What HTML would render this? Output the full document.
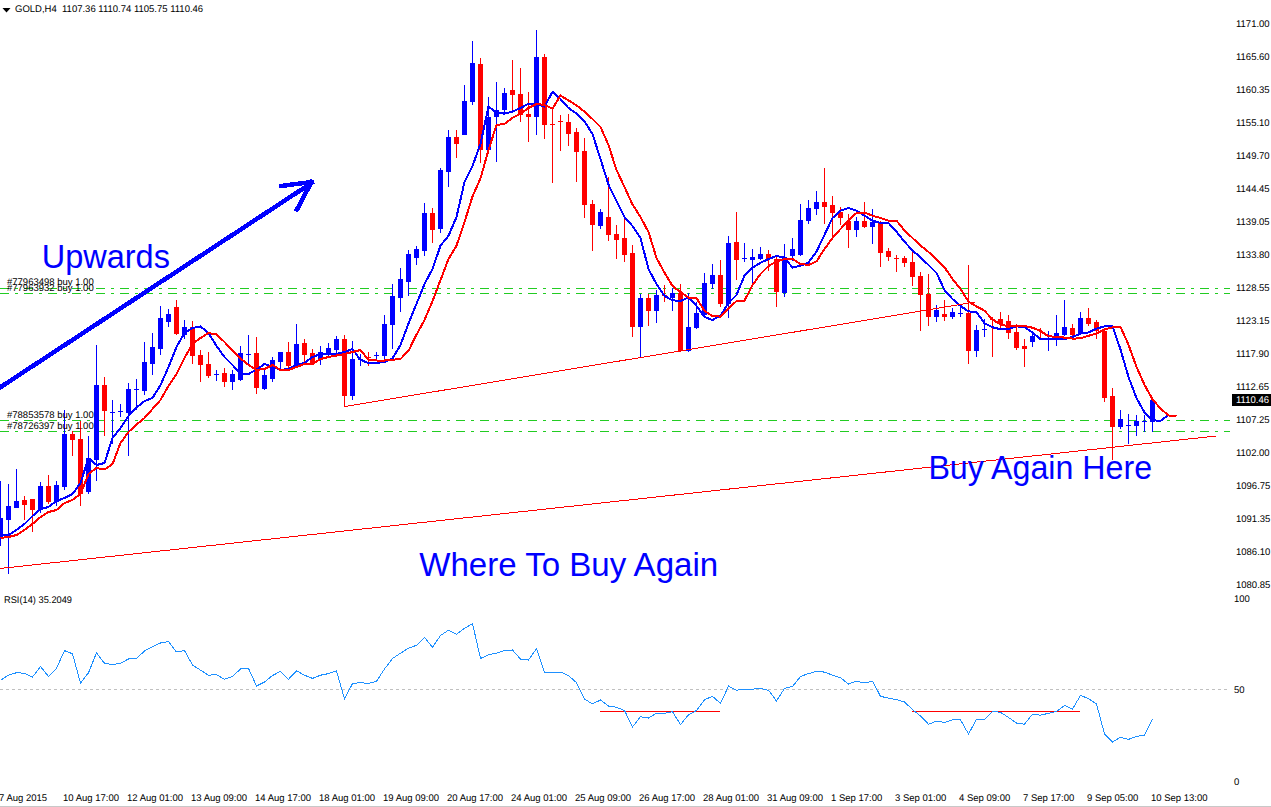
<!DOCTYPE html>
<html><head><meta charset="utf-8"><style>
html,body{margin:0;padding:0;background:#fff;width:1271px;height:807px;overflow:hidden}
svg{display:block}
text{font-family:"Liberation Sans",sans-serif}
</style></head><body>
<svg width="1271" height="807" viewBox="0 0 1271 807">
<line x1="0" y1="288.5" x2="1230" y2="288.5" stroke="#22CC22" stroke-width="1" stroke-dasharray="9 6 3 6" shape-rendering="crispEdges"/>
<line x1="0" y1="293.5" x2="1230" y2="293.5" stroke="#22CC22" stroke-width="1" stroke-dasharray="9 6 3 6" shape-rendering="crispEdges"/>
<line x1="0" y1="420.5" x2="1230" y2="420.5" stroke="#22CC22" stroke-width="1" stroke-dasharray="9 6 3 6" shape-rendering="crispEdges"/>
<line x1="0" y1="431.5" x2="1230" y2="431.5" stroke="#22CC22" stroke-width="1" stroke-dasharray="9 6 3 6" shape-rendering="crispEdges"/>
<g fill="#0000FF" shape-rendering="crispEdges"><rect x="0" y="481" width="1" height="65"/><rect x="-2" y="518" width="5" height="20"/><rect x="8" y="484" width="1" height="90"/><rect x="6" y="506" width="5" height="14"/><rect x="16" y="469" width="1" height="39"/><rect x="14" y="501" width="5" height="7"/><rect x="40" y="482" width="1" height="31"/><rect x="38" y="486" width="5" height="23"/><rect x="56" y="481" width="1" height="25"/><rect x="54" y="485" width="5" height="17"/><rect x="64" y="410" width="1" height="80"/><rect x="62" y="434" width="5" height="53"/><rect x="88" y="436" width="1" height="58"/><rect x="86" y="458" width="5" height="34"/><rect x="96" y="345" width="1" height="136"/><rect x="94" y="385" width="5" height="75"/><rect x="112" y="400" width="1" height="44"/><rect x="110" y="412" width="5" height="1"/><rect x="120" y="404" width="1" height="13"/><rect x="118" y="411" width="5" height="1"/><rect x="128" y="383" width="1" height="73"/><rect x="126" y="389" width="5" height="24"/><rect x="136" y="379" width="1" height="31"/><rect x="134" y="389" width="5" height="1"/><rect x="144" y="342" width="1" height="53"/><rect x="142" y="362" width="5" height="29"/><rect x="152" y="333" width="1" height="42"/><rect x="150" y="347" width="5" height="17"/><rect x="160" y="306" width="1" height="49"/><rect x="158" y="318" width="5" height="31"/><rect x="168" y="309" width="1" height="18"/><rect x="166" y="314" width="5" height="8"/><rect x="184" y="320" width="1" height="19"/><rect x="182" y="327" width="5" height="8"/><rect x="216" y="370" width="1" height="11"/><rect x="214" y="374" width="5" height="1"/><rect x="232" y="370" width="1" height="20"/><rect x="230" y="374" width="5" height="8"/><rect x="240" y="346" width="1" height="35"/><rect x="238" y="353" width="5" height="27"/><rect x="248" y="335" width="1" height="29"/><rect x="246" y="354" width="5" height="1"/><rect x="264" y="370" width="1" height="20"/><rect x="262" y="375" width="5" height="14"/><rect x="272" y="357" width="1" height="25"/><rect x="270" y="360" width="5" height="19"/><rect x="280" y="352" width="1" height="18"/><rect x="278" y="352" width="5" height="10"/><rect x="296" y="324" width="1" height="44"/><rect x="294" y="344" width="5" height="22"/><rect x="320" y="346" width="1" height="19"/><rect x="318" y="352" width="5" height="7"/><rect x="328" y="343" width="1" height="13"/><rect x="326" y="348" width="5" height="5"/><rect x="336" y="336" width="1" height="17"/><rect x="334" y="339" width="5" height="11"/><rect x="352" y="341" width="1" height="59"/><rect x="350" y="359" width="5" height="37"/><rect x="360" y="354" width="1" height="12"/><rect x="358" y="359" width="5" height="1"/><rect x="376" y="352" width="1" height="9"/><rect x="374" y="355" width="5" height="1"/><rect x="384" y="315" width="1" height="44"/><rect x="382" y="324" width="5" height="32"/><rect x="392" y="284" width="1" height="65"/><rect x="390" y="296" width="5" height="29"/><rect x="400" y="268" width="1" height="44"/><rect x="398" y="279" width="5" height="19"/><rect x="408" y="250" width="1" height="46"/><rect x="406" y="254" width="5" height="28"/><rect x="416" y="246" width="1" height="19"/><rect x="414" y="249" width="5" height="9"/><rect x="424" y="203" width="1" height="53"/><rect x="422" y="213" width="5" height="38"/><rect x="440" y="168" width="1" height="65"/><rect x="438" y="170" width="5" height="59"/><rect x="448" y="130" width="1" height="57"/><rect x="446" y="137" width="5" height="35"/><rect x="464" y="85" width="1" height="50"/><rect x="462" y="101" width="5" height="34"/><rect x="472" y="41" width="1" height="64"/><rect x="470" y="63" width="5" height="39"/><rect x="488" y="97" width="1" height="53"/><rect x="486" y="117" width="5" height="33"/><rect x="496" y="82" width="1" height="80"/><rect x="494" y="110" width="5" height="7"/><rect x="504" y="88" width="1" height="25"/><rect x="502" y="93" width="5" height="17"/><rect x="536" y="30" width="1" height="105"/><rect x="534" y="57" width="5" height="60"/><rect x="600" y="209" width="1" height="20"/><rect x="598" y="212" width="5" height="14"/><rect x="640" y="294" width="1" height="64"/><rect x="638" y="298" width="5" height="29"/><rect x="656" y="290" width="1" height="33"/><rect x="654" y="295" width="5" height="16"/><rect x="672" y="288" width="1" height="23"/><rect x="670" y="293" width="5" height="5"/><rect x="688" y="293" width="1" height="59"/><rect x="686" y="327" width="5" height="24"/><rect x="696" y="302" width="1" height="27"/><rect x="694" y="313" width="5" height="15"/><rect x="704" y="273" width="1" height="43"/><rect x="702" y="283" width="5" height="32"/><rect x="712" y="264" width="1" height="25"/><rect x="710" y="275" width="5" height="9"/><rect x="728" y="236" width="1" height="82"/><rect x="726" y="243" width="5" height="61"/><rect x="744" y="243" width="1" height="19"/><rect x="742" y="258" width="5" height="1"/><rect x="752" y="249" width="1" height="35"/><rect x="750" y="257" width="5" height="3"/><rect x="760" y="247" width="1" height="13"/><rect x="758" y="254" width="5" height="5"/><rect x="784" y="244" width="1" height="53"/><rect x="782" y="257" width="5" height="36"/><rect x="792" y="238" width="1" height="23"/><rect x="790" y="249" width="5" height="7"/><rect x="800" y="204" width="1" height="52"/><rect x="798" y="220" width="5" height="35"/><rect x="808" y="200" width="1" height="24"/><rect x="806" y="208" width="5" height="13"/><rect x="816" y="191" width="1" height="24"/><rect x="814" y="202" width="5" height="7"/><rect x="856" y="217" width="1" height="20"/><rect x="854" y="221" width="5" height="9"/><rect x="872" y="209" width="1" height="35"/><rect x="870" y="222" width="5" height="5"/><rect x="936" y="305" width="1" height="17"/><rect x="934" y="310" width="5" height="7"/><rect x="952" y="308" width="1" height="11"/><rect x="950" y="312" width="5" height="5"/><rect x="960" y="306" width="1" height="11"/><rect x="958" y="313" width="5" height="1"/><rect x="976" y="325" width="1" height="32"/><rect x="974" y="330" width="5" height="21"/><rect x="984" y="319" width="1" height="18"/><rect x="982" y="329" width="5" height="1"/><rect x="1032" y="333" width="1" height="14"/><rect x="1030" y="336" width="5" height="6"/><rect x="1048" y="331" width="1" height="20"/><rect x="1046" y="338" width="5" height="1"/><rect x="1056" y="315" width="1" height="31"/><rect x="1054" y="333" width="5" height="6"/><rect x="1064" y="300" width="1" height="36"/><rect x="1062" y="327" width="5" height="8"/><rect x="1080" y="312" width="1" height="21"/><rect x="1078" y="318" width="5" height="15"/><rect x="1120" y="410" width="1" height="19"/><rect x="1118" y="419" width="5" height="8"/><rect x="1128" y="414" width="1" height="30"/><rect x="1126" y="425" width="5" height="1"/><rect x="1136" y="415" width="1" height="21"/><rect x="1134" y="421" width="5" height="5"/><rect x="1144" y="415" width="1" height="17"/><rect x="1142" y="421" width="5" height="1"/><rect x="1152" y="400" width="1" height="32"/><rect x="1150" y="400" width="5" height="22"/></g>
<g fill="#FF0000" shape-rendering="crispEdges"><rect x="24" y="496" width="1" height="24"/><rect x="22" y="500" width="5" height="5"/><rect x="32" y="499" width="1" height="33"/><rect x="30" y="499" width="5" height="11"/><rect x="48" y="475" width="1" height="29"/><rect x="46" y="486" width="5" height="16"/><rect x="72" y="431" width="1" height="25"/><rect x="70" y="434" width="5" height="6"/><rect x="80" y="421" width="1" height="85"/><rect x="78" y="439" width="5" height="55"/><rect x="104" y="377" width="1" height="59"/><rect x="102" y="385" width="5" height="26"/><rect x="176" y="300" width="1" height="35"/><rect x="174" y="307" width="5" height="27"/><rect x="192" y="321" width="1" height="43"/><rect x="190" y="327" width="5" height="29"/><rect x="200" y="350" width="1" height="32"/><rect x="198" y="355" width="5" height="10"/><rect x="208" y="352" width="1" height="26"/><rect x="206" y="364" width="5" height="12"/><rect x="224" y="368" width="1" height="19"/><rect x="222" y="373" width="5" height="9"/><rect x="256" y="337" width="1" height="57"/><rect x="254" y="353" width="5" height="35"/><rect x="288" y="342" width="1" height="26"/><rect x="286" y="352" width="5" height="14"/><rect x="304" y="339" width="1" height="24"/><rect x="302" y="343" width="5" height="12"/><rect x="312" y="349" width="1" height="16"/><rect x="310" y="353" width="5" height="10"/><rect x="344" y="335" width="1" height="72"/><rect x="342" y="339" width="5" height="57"/><rect x="368" y="352" width="1" height="14"/><rect x="366" y="357" width="5" height="1"/><rect x="432" y="208" width="1" height="35"/><rect x="430" y="213" width="5" height="17"/><rect x="456" y="130" width="1" height="28"/><rect x="454" y="137" width="5" height="7"/><rect x="480" y="58" width="1" height="105"/><rect x="478" y="64" width="5" height="86"/><rect x="512" y="60" width="1" height="53"/><rect x="510" y="90" width="5" height="5"/><rect x="520" y="68" width="1" height="54"/><rect x="518" y="94" width="5" height="21"/><rect x="528" y="92" width="1" height="50"/><rect x="526" y="114" width="5" height="3"/><rect x="544" y="54" width="1" height="85"/><rect x="542" y="57" width="5" height="68"/><rect x="552" y="108" width="1" height="75"/><rect x="550" y="124" width="5" height="1"/><rect x="560" y="115" width="1" height="36"/><rect x="558" y="121" width="5" height="1"/><rect x="568" y="114" width="1" height="32"/><rect x="566" y="122" width="5" height="12"/><rect x="576" y="128" width="1" height="54"/><rect x="574" y="132" width="5" height="20"/><rect x="584" y="138" width="1" height="80"/><rect x="582" y="151" width="5" height="54"/><rect x="592" y="200" width="1" height="51"/><rect x="590" y="204" width="5" height="21"/><rect x="608" y="177" width="1" height="64"/><rect x="606" y="217" width="5" height="18"/><rect x="616" y="225" width="1" height="34"/><rect x="614" y="234" width="5" height="6"/><rect x="624" y="219" width="1" height="43"/><rect x="622" y="238" width="5" height="17"/><rect x="632" y="245" width="1" height="92"/><rect x="630" y="253" width="5" height="74"/><rect x="648" y="294" width="1" height="32"/><rect x="646" y="298" width="5" height="13"/><rect x="664" y="285" width="1" height="17"/><rect x="662" y="295" width="5" height="1"/><rect x="680" y="284" width="1" height="68"/><rect x="678" y="293" width="5" height="58"/><rect x="720" y="260" width="1" height="47"/><rect x="718" y="275" width="5" height="29"/><rect x="736" y="212" width="1" height="68"/><rect x="734" y="242" width="5" height="18"/><rect x="768" y="250" width="1" height="21"/><rect x="766" y="254" width="5" height="5"/><rect x="776" y="256" width="1" height="51"/><rect x="774" y="259" width="5" height="33"/><rect x="824" y="168" width="1" height="56"/><rect x="822" y="202" width="5" height="5"/><rect x="832" y="196" width="1" height="40"/><rect x="830" y="205" width="5" height="8"/><rect x="840" y="207" width="1" height="18"/><rect x="838" y="212" width="5" height="6"/><rect x="848" y="214" width="1" height="34"/><rect x="846" y="221" width="5" height="9"/><rect x="864" y="202" width="1" height="26"/><rect x="862" y="221" width="5" height="6"/><rect x="880" y="221" width="1" height="46"/><rect x="878" y="223" width="5" height="30"/><rect x="888" y="248" width="1" height="13"/><rect x="886" y="251" width="5" height="6"/><rect x="896" y="255" width="1" height="17"/><rect x="894" y="258" width="5" height="1"/><rect x="904" y="256" width="1" height="11"/><rect x="902" y="258" width="5" height="5"/><rect x="912" y="252" width="1" height="34"/><rect x="910" y="262" width="5" height="15"/><rect x="920" y="272" width="1" height="59"/><rect x="918" y="276" width="5" height="19"/><rect x="928" y="274" width="1" height="52"/><rect x="926" y="294" width="5" height="23"/><rect x="944" y="300" width="1" height="21"/><rect x="942" y="314" width="5" height="3"/><rect x="968" y="265" width="1" height="99"/><rect x="966" y="313" width="5" height="38"/><rect x="992" y="317" width="1" height="40"/><rect x="990" y="319" width="5" height="1"/><rect x="1000" y="312" width="1" height="18"/><rect x="998" y="319" width="5" height="5"/><rect x="1008" y="315" width="1" height="24"/><rect x="1006" y="321" width="5" height="12"/><rect x="1016" y="324" width="1" height="26"/><rect x="1014" y="332" width="5" height="16"/><rect x="1024" y="339" width="1" height="28"/><rect x="1022" y="346" width="5" height="3"/><rect x="1040" y="328" width="1" height="12"/><rect x="1038" y="338" width="5" height="1"/><rect x="1072" y="324" width="1" height="13"/><rect x="1070" y="328" width="5" height="7"/><rect x="1088" y="308" width="1" height="18"/><rect x="1086" y="318" width="5" height="6"/><rect x="1096" y="320" width="1" height="19"/><rect x="1094" y="322" width="5" height="9"/><rect x="1104" y="329" width="1" height="73"/><rect x="1102" y="331" width="5" height="67"/><rect x="1112" y="388" width="1" height="72"/><rect x="1110" y="396" width="5" height="31"/></g>
<polyline points="0.5,535.0 8.5,535.0 16.5,530.0 24.5,524.0 32.5,516.0 40.5,509.0 48.5,507.0 56.5,501.0 64.5,498.0 72.5,494.0 80.5,483.0 88.5,458.0 96.5,465.0 104.5,463.0 112.5,438.0 120.5,428.0 128.5,416.0 136.5,407.5 144.5,401.0 152.5,398.0 160.5,385.0 168.5,367.0 176.5,347.0 184.5,333.0 192.5,328.0 200.5,326.5 208.5,333.0 216.5,346.0 224.5,357.0 232.5,365.0 240.5,373.5 248.5,374.0 256.5,369.6 264.5,364.0 272.5,366.6 280.5,370.0 288.5,369.0 296.5,365.0 304.5,363.0 312.5,357.0 320.5,354.0 328.5,354.0 336.5,354.0 344.5,352.0 352.5,349.0 360.5,360.0 368.5,363.0 376.5,363.0 384.5,362.0 392.5,358.5 400.5,345.0 408.5,323.6 416.5,303.8 424.5,284.0 432.5,269.0 440.5,245.6 448.5,235.7 456.5,217.0 464.5,182.0 472.5,166.0 480.5,143.8 488.5,106.6 496.5,112.8 504.5,113.6 512.5,111.6 520.5,108.0 528.5,103.7 536.5,103.7 544.5,106.6 552.5,91.8 560.5,99.0 568.5,108.0 576.5,113.6 584.5,121.5 592.5,134.0 600.5,159.0 608.5,184.7 616.5,201.0 624.5,217.0 632.5,226.0 640.5,238.0 648.5,269.0 656.5,284.0 664.5,296.0 672.5,300.3 680.5,300.9 688.5,297.6 696.5,306.0 704.5,317.0 712.5,320.0 720.5,315.6 728.5,303.0 736.5,295.0 744.5,275.5 752.5,267.7 760.5,262.8 768.5,259.0 776.5,256.0 784.5,257.7 792.5,267.6 800.5,265.8 808.5,262.6 816.5,251.5 824.5,234.8 832.5,218.0 840.5,210.7 848.5,208.0 856.5,210.7 864.5,215.7 872.5,220.6 880.5,223.0 888.5,223.0 896.5,231.8 904.5,241.7 912.5,250.5 920.5,257.3 928.5,265.0 936.5,273.0 944.5,290.0 952.5,299.0 960.5,306.0 968.5,311.4 976.5,312.0 984.5,323.3 992.5,327.3 1000.5,329.2 1008.5,329.0 1016.5,326.4 1024.5,327.0 1032.5,332.6 1040.5,339.3 1048.5,339.3 1056.5,339.3 1064.5,339.0 1072.5,337.0 1080.5,333.6 1088.5,332.4 1096.5,328.6 1104.5,326.4 1112.5,326.4 1120.5,349.5 1128.5,377.0 1136.5,398.0 1144.5,412.5 1152.5,420.3 1160.5,420.8 1168.5,415.0" fill="none" stroke="#0000FF" stroke-width="2" stroke-linejoin="round" shape-rendering="crispEdges"/>
<polyline points="0.5,538.0 8.5,537.0 16.5,535.0 24.5,530.0 32.5,524.0 40.5,517.0 48.5,512.0 56.5,510.0 64.5,503.0 72.5,500.0 80.5,494.0 88.5,474.0 96.5,468.0 104.5,469.5 112.5,464.0 120.5,443.0 128.5,432.0 136.5,424.5 144.5,418.0 152.5,409.0 160.5,400.0 168.5,386.0 176.5,374.0 184.5,358.0 192.5,344.0 200.5,338.0 208.5,333.0 216.5,334.5 224.5,342.0 232.5,350.5 240.5,358.5 248.5,365.0 256.5,370.0 264.5,369.0 272.5,365.0 280.5,370.0 288.5,370.0 296.5,367.0 304.5,364.0 312.5,364.0 320.5,359.0 328.5,357.0 336.5,355.5 344.5,354.0 352.5,352.0 360.5,350.0 368.5,360.0 376.5,360.5 384.5,360.5 392.5,359.7 400.5,359.0 408.5,350.8 416.5,334.7 424.5,320.0 432.5,301.0 440.5,280.0 448.5,259.0 456.5,245.6 464.5,222.0 472.5,196.4 480.5,178.4 488.5,150.0 496.5,125.0 504.5,124.0 512.5,117.8 520.5,113.8 528.5,108.0 536.5,104.0 544.5,105.0 552.5,108.6 560.5,95.5 568.5,100.4 576.5,105.4 584.5,111.6 592.5,119.0 600.5,127.0 608.5,145.0 616.5,170.0 624.5,187.0 632.5,204.5 640.5,217.0 648.5,232.0 656.5,258.0 664.5,272.6 672.5,286.0 680.5,292.0 688.5,297.6 696.5,298.0 704.5,311.0 712.5,316.0 720.5,316.6 728.5,308.7 736.5,301.0 744.5,300.7 752.5,285.0 760.5,274.0 768.5,266.0 776.5,261.4 784.5,259.0 792.5,259.0 800.5,264.0 808.5,265.0 816.5,261.4 824.5,249.0 832.5,238.0 840.5,229.0 848.5,220.6 856.5,213.0 864.5,212.5 872.5,215.7 880.5,218.0 888.5,220.6 896.5,220.6 904.5,230.5 912.5,238.0 920.5,245.5 928.5,252.0 936.5,259.4 944.5,267.3 952.5,279.0 960.5,289.0 968.5,301.5 976.5,306.4 984.5,310.7 992.5,319.5 1000.5,324.4 1008.5,326.4 1016.5,326.0 1024.5,326.0 1032.5,327.7 1040.5,331.0 1048.5,336.3 1056.5,336.8 1064.5,337.6 1072.5,338.6 1080.5,338.4 1088.5,335.8 1096.5,333.5 1104.5,329.5 1112.5,327.3 1120.5,326.8 1128.5,344.7 1136.5,367.0 1144.5,384.8 1152.5,399.3 1160.5,408.5 1168.5,415.5 1176.5,416.0" fill="none" stroke="#FF0000" stroke-width="2" stroke-linejoin="round" shape-rendering="crispEdges"/>
<line x1="345" y1="406.5" x2="975.5" y2="302" stroke="#FF0000" stroke-width="1" shape-rendering="crispEdges"/>
<line x1="0" y1="568.5" x2="1216" y2="436" stroke="#FF0000" stroke-width="1" shape-rendering="crispEdges"/>
<g stroke="#0000FF" stroke-width="4.5" fill="none" stroke-linecap="square" shape-rendering="crispEdges"><line x1="-2" y1="388.8" x2="311.5" y2="183"/><line x1="281" y1="186" x2="311.5" y2="182"/><line x1="297" y1="209.5" x2="311.5" y2="182"/></g>
<text x="41.7" y="267.7" font-size="32.6" fill="#0000FF" textLength="128.2" lengthAdjust="spacingAndGlyphs">Upwards</text>
<text x="419.2" y="575.8" font-size="32.6" fill="#0000FF" textLength="299" lengthAdjust="spacingAndGlyphs">Where To Buy Again</text>
<text x="928.4" y="478.7" font-size="32.6" fill="#0000FF" textLength="223.7" lengthAdjust="spacingAndGlyphs">Buy Again Here</text>
<line x1="0" y1="689.5" x2="1228" y2="689.5" stroke="#C0C0C0" stroke-width="1" stroke-dasharray="3 3" shape-rendering="crispEdges"/>
<line x1="600" y1="711.5" x2="720" y2="711.5" stroke="#FF0000" stroke-width="1" shape-rendering="crispEdges"/>
<line x1="912" y1="711.5" x2="1080" y2="711.5" stroke="#FF0000" stroke-width="1" shape-rendering="crispEdges"/>
<polyline points="0.5,680.2 8.5,675.2 16.5,672.7 24.5,673.3 32.5,677 40.5,666.5 48.5,676.5 56.5,668.4 64.5,650.6 72.5,653.8 80.5,683 88.5,672.7 96.5,652.9 104.5,663.3 112.5,664.6 120.5,663.3 128.5,659 136.5,658.5 144.5,651 152.5,646.8 160.5,643 168.5,641.5 176.5,652 184.5,650.6 192.5,665 200.5,670.2 208.5,675.2 216.5,674.6 224.5,679.3 232.5,676.5 240.5,669 248.5,668.4 256.5,686 264.5,682 272.5,675.5 280.5,671.4 288.5,679.3 296.5,670.8 304.5,675.2 312.5,678.4 320.5,675.2 328.5,673.6 336.5,670.8 344.5,699.1 352.5,683.5 360.5,682.7 368.5,683.5 376.5,681.2 384.5,669 392.5,658.5 400.5,653.2 408.5,648.1 416.5,645.3 424.5,637.4 432.5,647.2 440.5,635.5 448.5,630.2 456.5,634.4 464.5,628.3 472.5,623.6 480.5,658.5 488.5,654.8 496.5,653.2 504.5,650.6 512.5,650 520.5,659 528.5,660 536.5,648.7 544.5,672.1 552.5,672.1 560.5,672.1 568.5,675.5 576.5,682.7 584.5,699.1 592.5,703.9 600.5,700 608.5,706.1 616.5,707.3 624.5,710.5 632.5,726.9 640.5,716.7 648.5,718 656.5,713.3 664.5,713.3 672.5,711.8 680.5,724.6 688.5,714.8 696.5,710.5 704.5,699.7 712.5,696.3 720.5,703.5 728.5,686 736.5,690.3 744.5,689.1 752.5,689.1 760.5,688.4 768.5,690.3 776.5,701 784.5,688.4 792.5,686.5 800.5,676.5 808.5,673.6 816.5,671.4 824.5,672.1 832.5,675.2 840.5,677.8 848.5,684 856.5,681.2 864.5,683 872.5,681.2 880.5,696.3 888.5,698.2 896.5,699.7 904.5,702 912.5,709.5 920.5,716.1 928.5,724.2 936.5,721.2 944.5,722.4 952.5,719.9 960.5,719.9 968.5,734 976.5,719.3 984.5,719.3 992.5,711.4 1000.5,712.3 1008.5,717.4 1016.5,723.1 1024.5,724.2 1032.5,714.2 1040.5,715.2 1048.5,713.3 1056.5,711.4 1064.5,705.4 1072.5,709.1 1080.5,695.4 1088.5,698.6 1096.5,704 1104.5,734 1112.5,742 1120.5,737.3 1128.5,739.4 1136.5,736.4 1144.5,735.1 1152.5,719" fill="none" stroke="#1E90FF" stroke-width="1" shape-rendering="crispEdges"/>
<path d="M2.5,8 L10.5,8 L6.5,12.5 Z" fill="#000"/>
<rect x="1232" y="394" width="39" height="12" fill="#000"/>
<g font-family="Liberation Sans, sans-serif" font-size="9.7" text-rendering="geometricPrecision"><text x="15" y="12.4" text-anchor="start" fill="#000" textLength="188.14" lengthAdjust="spacingAndGlyphs">GOLD,H4&#160;&#160;1107.36 1110.74 1105.75 1110.46</text><text x="7" y="284.5" text-anchor="start" fill="#000" textLength="86.68" lengthAdjust="spacingAndGlyphs">#77963498 buy 1.00</text><text x="7" y="290.5" text-anchor="start" fill="#000" textLength="86.68" lengthAdjust="spacingAndGlyphs">#77963932 buy 1.00</text><text x="7" y="418" text-anchor="start" fill="#000" textLength="86.68" lengthAdjust="spacingAndGlyphs">#78853578 buy 1.00</text><text x="7" y="429" text-anchor="start" fill="#000" textLength="86.68" lengthAdjust="spacingAndGlyphs">#78726397 buy 1.00</text><text x="1236" y="27" text-anchor="start" fill="#000" textLength="33.65" lengthAdjust="spacingAndGlyphs">1171.00</text><text x="1236" y="60" text-anchor="start" fill="#000" textLength="33.65" lengthAdjust="spacingAndGlyphs">1165.60</text><text x="1236" y="93" text-anchor="start" fill="#000" textLength="33.65" lengthAdjust="spacingAndGlyphs">1160.35</text><text x="1236" y="126" text-anchor="start" fill="#000" textLength="33.65" lengthAdjust="spacingAndGlyphs">1155.10</text><text x="1236" y="159" text-anchor="start" fill="#000" textLength="33.65" lengthAdjust="spacingAndGlyphs">1149.70</text><text x="1236" y="192" text-anchor="start" fill="#000" textLength="33.65" lengthAdjust="spacingAndGlyphs">1144.45</text><text x="1236" y="225" text-anchor="start" fill="#000" textLength="33.65" lengthAdjust="spacingAndGlyphs">1139.05</text><text x="1236" y="258" text-anchor="start" fill="#000" textLength="33.65" lengthAdjust="spacingAndGlyphs">1133.80</text><text x="1236" y="291" text-anchor="start" fill="#000" textLength="33.65" lengthAdjust="spacingAndGlyphs">1128.55</text><text x="1236" y="324" text-anchor="start" fill="#000" textLength="33.65" lengthAdjust="spacingAndGlyphs">1123.15</text><text x="1236" y="357" text-anchor="start" fill="#000" textLength="32.95" lengthAdjust="spacingAndGlyphs">1117.90</text><text x="1236" y="390" text-anchor="start" fill="#000" textLength="32.95" lengthAdjust="spacingAndGlyphs">1112.65</text><text x="1236" y="423" text-anchor="start" fill="#000" textLength="33.65" lengthAdjust="spacingAndGlyphs">1107.25</text><text x="1236" y="456" text-anchor="start" fill="#000" textLength="33.65" lengthAdjust="spacingAndGlyphs">1102.00</text><text x="1236" y="489" text-anchor="start" fill="#000" textLength="34.36" lengthAdjust="spacingAndGlyphs">1096.75</text><text x="1236" y="522" text-anchor="start" fill="#000" textLength="34.36" lengthAdjust="spacingAndGlyphs">1091.35</text><text x="1236" y="555" text-anchor="start" fill="#000" textLength="34.36" lengthAdjust="spacingAndGlyphs">1086.10</text><text x="1236" y="588" text-anchor="start" fill="#000" textLength="34.36" lengthAdjust="spacingAndGlyphs">1080.85</text><text x="1236" y="403" text-anchor="start" fill="#fff" textLength="32.95" lengthAdjust="spacingAndGlyphs">1110.46</text><text x="4" y="602.7" text-anchor="start" fill="#000" textLength="68.00" lengthAdjust="spacingAndGlyphs">RSI(14) 35.2049</text><text x="1234" y="601.5" text-anchor="start" fill="#000" textLength="15.86" lengthAdjust="spacingAndGlyphs">100</text><text x="1234" y="692.5" text-anchor="start" fill="#000" textLength="10.57" lengthAdjust="spacingAndGlyphs">50</text><text x="1234" y="785" text-anchor="start" fill="#000" textLength="5.29" lengthAdjust="spacingAndGlyphs">0</text><text x="-1" y="801" text-anchor="start" fill="#000" textLength="48.10" lengthAdjust="spacingAndGlyphs">7 Aug 2015</text><text x="63" y="801" text-anchor="start" fill="#000" textLength="56.03" lengthAdjust="spacingAndGlyphs">10 Aug 17:00</text><text x="127" y="801" text-anchor="start" fill="#000" textLength="56.03" lengthAdjust="spacingAndGlyphs">12 Aug 01:00</text><text x="191" y="801" text-anchor="start" fill="#000" textLength="56.03" lengthAdjust="spacingAndGlyphs">13 Aug 09:00</text><text x="255" y="801" text-anchor="start" fill="#000" textLength="56.03" lengthAdjust="spacingAndGlyphs">14 Aug 17:00</text><text x="319" y="801" text-anchor="start" fill="#000" textLength="56.03" lengthAdjust="spacingAndGlyphs">18 Aug 01:00</text><text x="383" y="801" text-anchor="start" fill="#000" textLength="56.03" lengthAdjust="spacingAndGlyphs">19 Aug 09:00</text><text x="447" y="801" text-anchor="start" fill="#000" textLength="56.03" lengthAdjust="spacingAndGlyphs">20 Aug 17:00</text><text x="511" y="801" text-anchor="start" fill="#000" textLength="56.03" lengthAdjust="spacingAndGlyphs">24 Aug 01:00</text><text x="575" y="801" text-anchor="start" fill="#000" textLength="56.03" lengthAdjust="spacingAndGlyphs">25 Aug 09:00</text><text x="639" y="801" text-anchor="start" fill="#000" textLength="56.03" lengthAdjust="spacingAndGlyphs">26 Aug 17:00</text><text x="703" y="801" text-anchor="start" fill="#000" textLength="56.03" lengthAdjust="spacingAndGlyphs">28 Aug 01:00</text><text x="767" y="801" text-anchor="start" fill="#000" textLength="56.03" lengthAdjust="spacingAndGlyphs">31 Aug 09:00</text><text x="831" y="801" text-anchor="start" fill="#000" textLength="51.27" lengthAdjust="spacingAndGlyphs">1 Sep 17:00</text><text x="895" y="801" text-anchor="start" fill="#000" textLength="51.27" lengthAdjust="spacingAndGlyphs">3 Sep 01:00</text><text x="959" y="801" text-anchor="start" fill="#000" textLength="51.27" lengthAdjust="spacingAndGlyphs">4 Sep 09:00</text><text x="1023" y="801" text-anchor="start" fill="#000" textLength="51.27" lengthAdjust="spacingAndGlyphs">7 Sep 17:00</text><text x="1087" y="801" text-anchor="start" fill="#000" textLength="51.27" lengthAdjust="spacingAndGlyphs">9 Sep 05:00</text><text x="1151" y="801" text-anchor="start" fill="#000" textLength="56.55" lengthAdjust="spacingAndGlyphs">10 Sep 13:00</text></g>
<rect x="0" y="806" width="1271" height="1" fill="#C8C8C8"/>
</svg></body></html>
